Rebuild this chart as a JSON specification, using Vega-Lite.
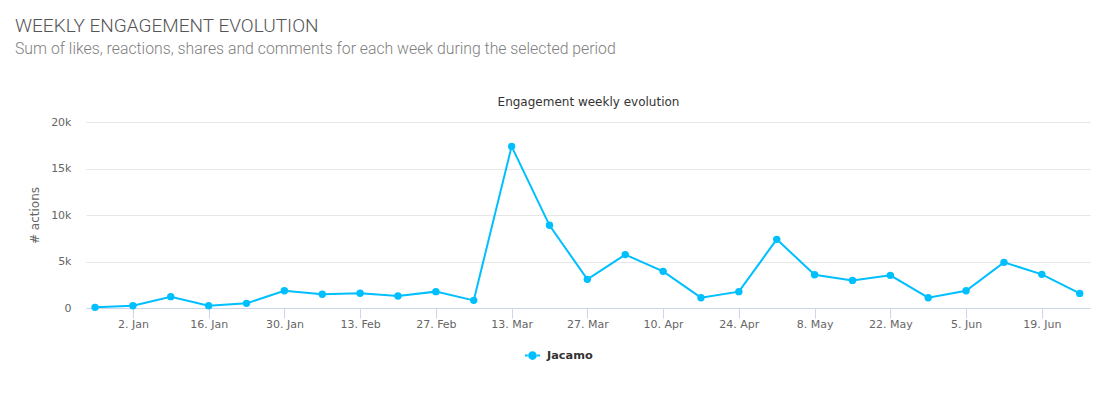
{
  "$schema": "https://vega.github.io/schema/vega-lite/v6.json",
  "width": 1004,
  "height": 186,
  "autosize": {"type": "none"},
  "padding": {"left": 86, "top": 122, "right": 24, "bottom": 90},
  "background": "#ffffff",
  "config": {"view": {"stroke": null}},
  "title": {
    "text": "WEEKLY ENGAGEMENT EVOLUTION",
    "subtitle": "Sum of likes, reactions, shares and comments for each week during the selected period",
    "anchor": "start",
    "frame": "group",
    "dx": -71,
    "offset": 38,
    "font": "Roboto",
    "fontSize": 19,
    "fontWeight": 300,
    "color": "#555555",
    "subtitleFont": "Roboto",
    "subtitleFontSize": 15.8,
    "subtitleFontWeight": 300,
    "subtitleColor": "#808080",
    "subtitlePadding": 6
  },
  "data": {
    "values": [
      {"week": "2016-12-26", "actions": 70, "series": "Jacamo"},
      {"week": "2017-01-02", "actions": 250, "series": "Jacamo"},
      {"week": "2017-01-09", "actions": 1220, "series": "Jacamo"},
      {"week": "2017-01-16", "actions": 250, "series": "Jacamo"},
      {"week": "2017-01-23", "actions": 500, "series": "Jacamo"},
      {"week": "2017-01-30", "actions": 1860, "series": "Jacamo"},
      {"week": "2017-02-06", "actions": 1470, "series": "Jacamo"},
      {"week": "2017-02-13", "actions": 1580, "series": "Jacamo"},
      {"week": "2017-02-20", "actions": 1290, "series": "Jacamo"},
      {"week": "2017-02-27", "actions": 1760, "series": "Jacamo"},
      {"week": "2017-03-06", "actions": 820, "series": "Jacamo"},
      {"week": "2017-03-13", "actions": 17380, "series": "Jacamo"},
      {"week": "2017-03-20", "actions": 8890, "series": "Jacamo"},
      {"week": "2017-03-27", "actions": 3080, "series": "Jacamo"},
      {"week": "2017-04-03", "actions": 5740, "series": "Jacamo"},
      {"week": "2017-04-10", "actions": 3940, "series": "Jacamo"},
      {"week": "2017-04-17", "actions": 1110, "series": "Jacamo"},
      {"week": "2017-04-24", "actions": 1760, "series": "Jacamo"},
      {"week": "2017-05-01", "actions": 7380, "series": "Jacamo"},
      {"week": "2017-05-08", "actions": 3580, "series": "Jacamo"},
      {"week": "2017-05-15", "actions": 2970, "series": "Jacamo"},
      {"week": "2017-05-22", "actions": 3510, "series": "Jacamo"},
      {"week": "2017-05-29", "actions": 1110, "series": "Jacamo"},
      {"week": "2017-06-05", "actions": 1860, "series": "Jacamo"},
      {"week": "2017-06-12", "actions": 4910, "series": "Jacamo"},
      {"week": "2017-06-19", "actions": 3620, "series": "Jacamo"},
      {"week": "2017-06-26", "actions": 1570, "series": "Jacamo"}
    ]
  },
  "resolve": {"axis": {"x": "independent"}},
  "layer": [
    {
      "mark": {"type": "line", "strokeWidth": 2, "color": "#00bfff"},
      "encoding": {
        "x": {
          "field": "week",
          "type": "temporal",
          "scale": {
            "type": "utc",
            "domain": [
              {"year": 2016, "month": 12, "date": 24, "hours": 8, "utc": true},
              {"year": 2017, "month": 6, "date": 27, "hours": 21, "minutes": 40, "utc": true}
            ]
          },
          "axis": {
            "orient": "bottom",
            "title": null,
            "format": "%-d. %b",
            "values": [
              {"year": 2017, "month": 1, "date": 2, "utc": true},
              {"year": 2017, "month": 1, "date": 16, "utc": true},
              {"year": 2017, "month": 1, "date": 30, "utc": true},
              {"year": 2017, "month": 2, "date": 13, "utc": true},
              {"year": 2017, "month": 2, "date": 27, "utc": true},
              {"year": 2017, "month": 3, "date": 13, "utc": true},
              {"year": 2017, "month": 3, "date": 27, "utc": true},
              {"year": 2017, "month": 4, "date": 10, "utc": true},
              {"year": 2017, "month": 4, "date": 24, "utc": true},
              {"year": 2017, "month": 5, "date": 8, "utc": true},
              {"year": 2017, "month": 5, "date": 22, "utc": true},
              {"year": 2017, "month": 6, "date": 5, "utc": true},
              {"year": 2017, "month": 6, "date": 19, "utc": true}
            ],
            "grid": false,
            "domainColor": "#ccd6eb",
            "domainWidth": 1,
            "tickColor": "#ccd6eb",
            "tickSize": 10,
            "labelFont": "DejaVu Sans",
            "labelFontSize": 11,
            "labelColor": "#666666",
            "labelPadding": 0,
            "labelFlush": false,
            "labelOverlap": false
          }
        },
        "y": {
          "field": "actions",
          "type": "quantitative",
          "scale": {"domain": [0, 20000], "nice": false},
          "axis": {
            "title": "# actions",
            "values": [0, 5000, 10000, 15000, 20000],
            "labelExpr": "datum.value == 0 ? '0' : format(datum.value / 1000, 'd') + 'k'",
            "domain": false,
            "ticks": false,
            "tickSize": 0,
            "grid": true,
            "gridColor": "#e6e6e6",
            "labelFont": "DejaVu Sans",
            "labelFontSize": 11,
            "labelColor": "#666666",
            "labelPadding": 15,
            "titleFont": "DejaVu Sans",
            "titleFontSize": 12,
            "titleFontWeight": "normal",
            "titleColor": "#666666",
            "titlePadding": 9
          }
        },
        "color": {
          "field": "series",
          "type": "nominal",
          "scale": {"range": ["#00bfff"]},
          "legend": {
            "title": null,
            "orient": "none",
            "legendX": 438,
            "legendY": 225,
            "symbolType": "M-1,0H-0.62M0.62,0H1M-0.45,0A0.45,0.45,0,1,0,0.45,0A0.45,0.45,0,1,0,-0.45,0Z",
            "symbolSize": 225,
            "symbolStrokeWidth": 2,
            "symbolFillColor": "#00bfff",
            "symbolStrokeColor": "#00bfff",
            "labelFont": "DejaVu Sans",
            "labelFontSize": 11.3,
            "labelFontWeight": "bold",
            "labelColor": "#333333",
            "labelOffset": 6
          }
        }
      }
    },
    {
      "mark": {"type": "point", "filled": true, "size": 55, "opacity": 1, "color": "#00bfff"},
      "encoding": {
        "x": {
          "field": "week",
          "type": "temporal",
          "axis": {
            "orient": "top",
            "title": "Engagement weekly evolution",
            "labels": false,
            "ticks": false,
            "domain": false,
            "grid": false,
            "titleFont": "DejaVu Sans",
            "titleFontSize": 12,
            "titleFontWeight": "normal",
            "titleColor": "#333333",
            "titlePadding": 14
          }
        },
        "y": {"field": "actions", "type": "quantitative"},
        "color": {"field": "series", "type": "nominal"}
      }
    }
  ]
}
